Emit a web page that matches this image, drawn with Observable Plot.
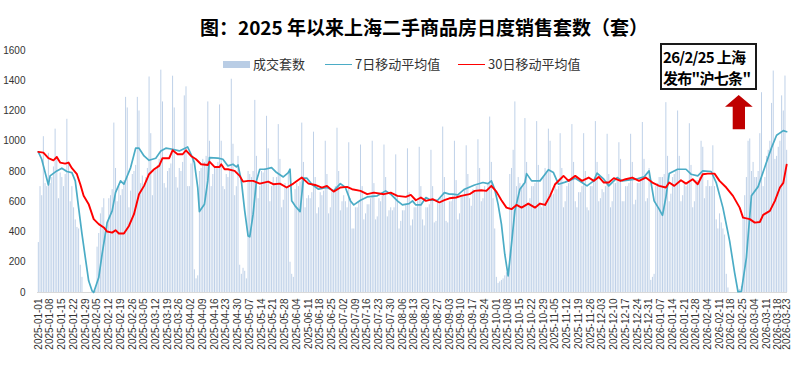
<!DOCTYPE html>
<html><head><meta charset="utf-8">
<script src="https://cdn.jsdelivr.net/npm/d3@7"></script>
<script src="https://cdn.jsdelivr.net/npm/@observablehq/plot@0.6"></script>
<style>
body{margin:0;background:#fff;}
#wrap{position:relative;width:800px;height:366px;overflow:hidden;}
.abs{position:absolute;white-space:nowrap;}
#title{left:124px;width:600px;top:15px;text-align:center;font:bold 19px/24px "Noto Sans CJK SC","Liberation Sans",sans-serif;color:#000;}
.lg{font:13px/16px "Noto Sans CJK SC","Liberation Sans",sans-serif;color:#333;top:56px;}
#note{left:660px;top:43px;width:97px;height:47px;box-sizing:border-box;border:2px solid #1a1a1a;background:#fff;
 font:bold 15px/21px "Noto Sans CJK SC","Liberation Sans",sans-serif;color:#000;padding:1px 0 0 1px;letter-spacing:-0.7px;}
</style></head>
<body>
<div id="wrap">
 <div id="chart"></div>
 <div id="title" class="abs">图：2025 年以来上海二手商品房日度销售套数（套）</div>
 <div class="abs" style="left:223px;top:61px;width:27px;height:7px;background:#b9cde5"></div>
 <div class="abs lg" style="left:253px">成交套数</div>
 <div class="abs" style="left:325px;top:63.5px;width:27px;height:1.6px;background:#4bacc6"></div>
 <div class="abs lg" style="left:355px">7日移动平均值</div>
 <div class="abs" style="left:458px;top:63.5px;width:27px;height:1.6px;background:#ff0000"></div>
 <div class="abs lg" style="left:488px">30日移动平均值</div>
 <div id="note" class="abs">26/2/25 上海<br>发布"沪七条"</div>
 <svg class="abs" style="left:0;top:0" width="800" height="366"><polygon points="738.7,95 752.7,106.7 745,106.7 745,129.3 732.7,129.3 732.7,106.7 725,106.7" fill="#c00000"/></svg>
</div>
<script>
// daily transactions, one value per day starting 2025-01-01 (Wed)
const dailyCount = [
330,700,640,1030,720,700,920,
720,760,830,1080,900,620,790,
760,700,780,1145,860,600,700,
560,480,430,420,180,100,0,
0,0,0,0,0,0,10,
300,390,520,560,620,400,445,
620,640,680,1120,820,600,700,
640,680,740,1290,1220,560,670,
780,800,840,1290,1200,720,770,
700,760,820,1425,1050,640,800,
820,840,880,1470,1260,720,690,
800,820,850,1430,1220,760,690,
820,800,860,1300,1360,700,700,
850,900,150,90,110,800,820,
880,860,900,1260,1000,700,780,
830,820,860,1240,1000,700,680,
780,760,800,1410,980,640,700,
900,180,120,160,140,90,800,
780,760,800,1270,900,620,700,
800,790,820,1165,950,600,700,
760,720,760,1110,880,560,610,
720,700,800,200,120,100,680,
720,700,730,1120,860,560,620,
640,620,660,1060,760,520,560,
660,640,670,1000,780,520,560,
680,660,700,1086,800,540,600,
640,600,560,990,620,420,420,
560,560,600,975,700,480,520,
580,580,620,1000,720,480,500,
620,600,640,975,760,500,540,
560,540,560,910,640,420,470,
540,540,580,950,660,440,480,
560,560,600,960,700,480,440,
560,560,580,940,700,460,470,
600,580,620,1094,760,470,460,
600,600,640,1000,740,480,520,
640,640,680,970,780,620,570,
680,660,700,1010,820,600,620,
700,680,720,1160,860,620,420,
100,60,70,80,90,110,130,
140,780,820,940,1260,700,760,
720,700,720,1150,860,580,620,
700,700,720,1130,840,580,560,
760,820,800,1080,1000,640,650,
700,680,700,1050,820,560,600,
700,720,740,1110,860,600,560,
660,660,700,1050,800,560,540,
700,700,740,1130,860,600,620,
680,660,700,1046,780,560,600,
720,720,740,990,880,600,600,
700,700,720,1046,860,580,610,
720,720,740,1124,880,600,620,
820,80,100,120,700,720,760,
760,760,780,1255,900,600,650,
760,780,800,1200,900,600,640,
720,700,720,1116,840,560,600,
740,740,760,1000,960,620,700,
740,700,700,970,700,480,420,
520,460,420,380,120,30,0,
0,0,0,0,10,20,40,
500,640,760,1000,1015,800,860,
760,760,800,1050,1321,700,760,
900,940,1000,1250,1464,880,900,
960,1000,1300,1200,1431,940
];
// 7-day moving average: day offset from 2025-01-01, value
const ma7Day = [0,2,6,7,11,14,17,20,22,24,26,28,30,32,33,36,38,41,44,46,49,51,55,58,60,63,66,70,73,76,80,84,89,91,93,95,96,99,101,102,107,110,113,116,118,119,121,123,125,126,128,130,132,135,139,142,146,149,150,151,153,156,158,160,163,167,172,176,180,183,186,188,192,196,202,207,210,214,217,221,223,225,228,231,234,238,242,245,247,250,254,260,265,268,270,272,274,276,278,280,282,284,287,290,291,294,299,302,304,307,310,314,320,324,327,331,333,337,340,345,348,356,361,364,367,370,372,374,376,381,386,389,393,396,401,404,408,412,415,417,419,422,425,429,433,437,440,444,446];
const ma7Val = [930,881,711,771,804,822,800,793,738,561,388,231,77,11,0,99,253,462,540,660,738,716,826,954,954,903,874,888,936,954,947,936,962,914,859,694,535,584,738,892,888,881,837,848,830,843,738,540,374,368,518,738,815,815,826,793,764,793,815,606,573,535,756,756,716,683,694,672,720,694,606,579,610,632,639,672,650,606,579,588,606,579,579,628,610,610,660,650,650,645,683,711,727,720,738,683,584,452,253,110,320,540,683,727,786,738,738,782,812,793,716,730,755,727,705,738,790,749,705,760,738,749,764,804,606,551,510,628,786,815,815,782,771,804,800,727,561,341,130,5,7,231,640,700,830,958,1040,1070,1063];
// 30-day moving average
const ma30Day = [0,3,6,9,11,13,16,18,20,23,25,27,30,33,36,39,41,44,46,48,51,54,57,60,63,66,69,72,74,78,80,83,86,88,91,94,97,101,102,105,108,109,111,113,117,120,122,125,128,132,137,140,144,148,152,157,161,165,169,172,176,180,184,187,192,196,200,206,210,214,219,222,225,228,231,235,239,242,245,249,252,257,260,264,267,270,273,276,279,282,285,288,292,296,299,302,305,308,311,313,316,320,324,328,331,334,337,340,343,347,350,354,358,362,366,370,374,376,379,383,386,390,393,396,399,403,406,410,414,418,420,424,427,430,432,436,439,442,444,446];
const ma30Val = [930,925,888,874,896,859,852,859,822,782,716,639,584,485,452,430,403,396,412,390,390,440,518,650,705,782,815,837,888,888,940,914,914,940,903,881,848,843,865,830,830,848,815,815,804,771,733,738,738,720,733,716,720,694,720,760,720,711,694,705,667,694,698,683,672,650,660,650,660,639,632,645,610,628,606,617,595,610,623,628,639,650,672,676,672,705,667,610,561,551,579,561,588,561,588,579,639,716,749,771,738,771,738,760,738,764,727,727,756,738,749,760,738,760,727,705,694,727,705,742,720,749,716,782,786,786,738,694,639,561,495,485,462,466,513,540,606,694,725,845];
const tickLabels = ["2025-01-01","2025-01-08","2025-01-15","2025-01-22","2025-01-29","2025-02-05","2025-02-12","2025-02-19","2025-02-26","2025-03-05","2025-03-12","2025-03-19","2025-03-26","2025-04-02","2025-04-09","2025-04-16","2025-04-23","2025-04-30","2025-05-07","2025-05-14","2025-05-21","2025-05-28","2025-06-04","2025-06-11","2025-06-18","2025-06-25","2025-07-02","2025-07-09","2025-07-16","2025-07-23","2025-07-30","2025-08-06","2025-08-13","2025-08-20","2025-08-27","2025-09-03","2025-09-10","2025-09-17","2025-09-24","2025-10-01","2025-10-08","2025-10-15","2025-10-22","2025-10-29","2025-11-05","2025-11-12","2025-11-19","2025-11-26","2025-12-03","2025-12-10","2025-12-17","2025-12-24","2025-12-31","2026-01-07","2026-01-14","2026-01-21","2026-01-28","2026-02-04","2026-02-11","2026-02-18","2026-02-25","2026-03-04","2026-03-11","2026-03-18","2026-03-23"];
const yTicks = [0,200,400,600,800,1000,1200,1400,1600];

const start = new Date(Date.UTC(2025,0,1));
const noon = i => new Date(start.getTime() + (i + 0.5) * 864e5);
const bars = dailyCount.map((v,i) => ({date: noon(i), v}));
const ma7 = ma7Day.map((d,i) => ({date: noon(d), v: ma7Val[i]}));
const ma30 = ma30Day.map((d,i) => ({date: noon(d), v: ma30Val[i]}));
const tickDates = tickLabels.map(s => new Date(s + "T12:00:00Z"));
const endDate = new Date(start.getTime() + dailyCount.length * 864e5);

const chart = Plot.plot({
  width: 800, height: 366,
  marginLeft: 37, marginRight: 13, marginTop: 50, marginBottom: 74,
  style: {fontFamily: "'Liberation Sans', Arial, sans-serif", fontSize: "10px", color: "#333", background: "transparent", overflow: "visible"},
  x: {type: "utc", domain: [start, endDate], ticks: tickDates, tickFormat: d3.utcFormat("%Y-%m-%d"), tickRotate: -90, tickSize: 0, tickPadding: 6, label: null},
  y: {domain: [0, 1600], ticks: yTicks, tickFormat: d => String(d), tickSize: 0, tickPadding: 12, label: null},
  marks: [
    Plot.ruleX(bars, {x: "date", y1: 0, y2: "v", stroke: "#bccfe7", strokeWidth: 0.95}),
    Plot.ruleY([0], {stroke: "#d9d9d9"}),
    Plot.line(ma7, {x: "date", y: "v", stroke: "#4bacc6", strokeWidth: 1.7}),
    Plot.line(ma30, {x: "date", y: "v", stroke: "#ff0000", strokeWidth: 1.9})
  ]
});
document.getElementById("chart").appendChild(chart);
</script>
</body></html>
